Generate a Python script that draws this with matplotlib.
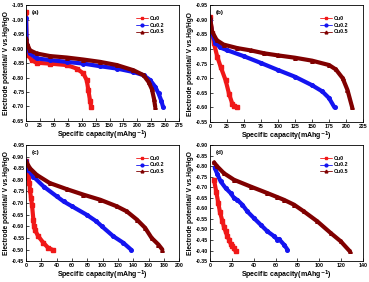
import matplotlib
matplotlib.use("Agg")
import matplotlib.pyplot as plt
import numpy as np

plt.rcParams['font.family'] = ['Liberation Sans', 'DejaVu Sans']
plt.rcParams['font.weight'] = 'bold'
plt.rcParams['mathtext.default'] = 'bf'

series_names = ["Cu0", "Cu0.2", "Cu0.5"]
colors = ["#f01818", "#1414f0", "#800000"]
markers = ["s", "o", "^"]
panel_labels = ["(a)", "(b)", "(c)", "(d)"]

# Panel (a)
a_cu0_x = [0, 1.2, 4.2, 10, 19, 43, 73, 91, 103, 109, 112, 115, 117]
a_cu0_y = [-1.027, -0.906, -0.877, -0.860, -0.851, -0.848, -0.843, -0.831, -0.814, -0.791, -0.756, -0.720, -0.699]
a_cu02_x = [0, 1.2, 7, 19, 43, 73, 103, 133, 163, 193, 211, 223, 232, 238, 243, 246]
a_cu02_y = [-1.005, -0.912, -0.883, -0.866, -0.860, -0.854, -0.848, -0.839, -0.831, -0.819, -0.808, -0.791, -0.768, -0.745, -0.720, -0.699]
a_cu05_x = [0, 1.2, 7, 19, 43, 73, 103, 133, 163, 193, 211, 220, 226, 230, 232]
a_cu05_y = [-0.935, -0.918, -0.894, -0.883, -0.874, -0.869, -0.862, -0.854, -0.843, -0.825, -0.808, -0.785, -0.760, -0.725, -0.699]

# Panel (b)
b_cu0_x = [0, 3.4, 5.9, 10.8, 15.7, 23, 28, 32.8, 36, 39]
b_cu0_y = [-0.910, -0.853, -0.819, -0.773, -0.739, -0.693, -0.647, -0.613, -0.605, -0.600]
b_cu02_x = [0, 3, 8, 15, 25, 50, 75, 100, 125, 150, 165, 175, 183]
b_cu02_y = [-0.900, -0.855, -0.822, -0.805, -0.796, -0.775, -0.752, -0.728, -0.705, -0.676, -0.655, -0.632, -0.600]
b_cu05_x = [0, 3, 10, 20, 40, 60, 80, 100, 125, 150, 175, 185, 195, 202, 209]
b_cu05_y = [-0.910, -0.860, -0.830, -0.815, -0.803, -0.795, -0.785, -0.778, -0.770, -0.760, -0.745, -0.730, -0.700, -0.660, -0.600]

# Panel (c)
c_cu0_x = [0, 1.5, 3, 4.4, 5.2, 6.5, 7.8, 9.6, 10.5, 11.8, 16, 22.7, 29, 35.7]
c_cu0_y = [-0.879, -0.840, -0.814, -0.786, -0.757, -0.721, -0.693, -0.629, -0.600, -0.583, -0.557, -0.529, -0.507, -0.497]
c_cu02_x = [0, 3, 9.6, 23, 40, 49, 60, 79, 92, 99, 114, 127, 137]
c_cu02_y = [-0.879, -0.843, -0.814, -0.771, -0.729, -0.707, -0.686, -0.650, -0.621, -0.600, -0.557, -0.529, -0.500]
c_cu05_x = [0, 5, 14, 31, 53, 75, 97, 118.5, 131.6, 144.7, 155.6, 164, 173, 178]
c_cu05_y = [-0.880, -0.850, -0.821, -0.786, -0.760, -0.736, -0.714, -0.686, -0.664, -0.629, -0.593, -0.550, -0.521, -0.500]

# Panel (d)
d_cu0_x = [3.7, 5.8, 7.6, 9.2, 11.3, 12.8, 14.3, 15.9, 17.4, 18.9, 20.4, 22, 23.5]
d_cu0_y = [-0.735, -0.677, -0.625, -0.581, -0.541, -0.512, -0.491, -0.468, -0.452, -0.433, -0.420, -0.410, -0.397]
d_cu02_x = [4.3, 6.7, 9.8, 14.3, 18.9, 22, 25, 29.6, 34.2, 40.3, 46.4, 52.5, 58.6, 61.6, 63, 67.7, 70.8]
d_cu02_y = [-0.793, -0.762, -0.727, -0.696, -0.672, -0.649, -0.640, -0.617, -0.585, -0.553, -0.522, -0.491, -0.468, -0.452, -0.455, -0.428, -0.405]
d_cu05_x = [3.7, 6.7, 12.8, 22, 37.2, 52.5, 61.6, 67.7, 76.9, 85.9, 98.2, 110.4, 119.5, 127.8]
d_cu05_y = [-0.817, -0.798, -0.766, -0.735, -0.703, -0.672, -0.653, -0.640, -0.617, -0.585, -0.538, -0.483, -0.444, -0.397]

panels = [
    dict(data=[(a_cu0_x, a_cu0_y), (a_cu02_x, a_cu02_y), (a_cu05_x, a_cu05_y)],
         xlim=(0, 275), xstep=25, ylim=(-0.65, -1.05), yticks=np.arange(-1.05, -0.649, 0.05),
         rect=[0.0705, 0.571, 0.415, 0.411]),
    dict(data=[(b_cu0_x, b_cu0_y), (b_cu02_x, b_cu02_y), (b_cu05_x, b_cu05_y)],
         xlim=(0, 225), xstep=25, ylim=(-0.55, -0.95), yticks=np.arange(-0.95, -0.549, 0.05),
         rect=[0.569, 0.567, 0.415, 0.415]),
    dict(data=[(c_cu0_x, c_cu0_y), (c_cu02_x, c_cu02_y), (c_cu05_x, c_cu05_y)],
         xlim=(0, 200), xstep=20, ylim=(-0.45, -0.95), yticks=np.arange(-0.95, -0.449, 0.05),
         rect=[0.0705, 0.074, 0.415, 0.412]),
    dict(data=[(d_cu0_x, d_cu0_y), (d_cu02_x, d_cu02_y), (d_cu05_x, d_cu05_y)],
         xlim=(0, 140), xstep=20, ylim=(-0.35, -0.90), yticks=np.arange(-0.90, -0.349, 0.05),
         rect=[0.569, 0.074, 0.415, 0.412]),
]

fig = plt.figure(figsize=(3.69, 2.82), dpi=100)
for i, p in enumerate(panels):
    ax = fig.add_axes(p["rect"])
    for (xs, ys), name, c, m in zip(p["data"], series_names, colors, markers):
        ax.plot(xs, ys, color=c, lw=3.0, marker=m, ms=2.6, mec=c, mfc=c, label=name,
                solid_capstyle='round', solid_joinstyle='round')
    ax.set_xlim(*p["xlim"])
    ax.set_ylim(*p["ylim"])
    ax.set_xticks(np.arange(p["xlim"][0], p["xlim"][1] + 0.1, p["xstep"]))
    ax.set_yticks(p["yticks"])
    ax.set_yticklabels([f"{v:.2f}" for v in p["yticks"]])
    ax.tick_params(direction='in', length=2, width=0.5, labelsize=3.8, pad=1.2)
    for s in ax.spines.values():
        s.set_linewidth(0.6)
    ax.set_xlabel("Specific capacity(mAhg$^{-1}$)", fontsize=5, fontweight='bold', labelpad=0.8)
    ax.set_ylabel("Electrode potential/ V vs.Hg/HgO", fontsize=4.8, fontweight='bold', labelpad=1.5)
    ax.text(0.035, 0.955, panel_labels[i], transform=ax.transAxes, fontsize=4.5,
            fontweight='bold', va='top', ha='left')
    leg = ax.legend(loc='upper right', bbox_to_anchor=(0.93, 0.94), frameon=False,
                    fontsize=3.8, handlelength=2.2, handletextpad=0.5, labelspacing=0.35,
                    borderpad=0.2)
    for h in leg.get_lines():
        h.set_linewidth(0.6)
        h.set_markersize(2)

fig.savefig("out.png", dpi=100)
